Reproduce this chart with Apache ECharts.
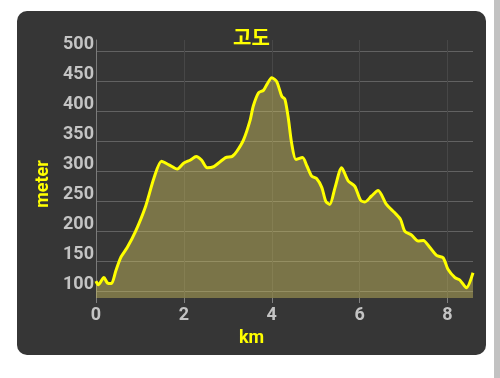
<!DOCTYPE html>
<html>
<head>
<meta charset="utf-8">
<script src="https://cdn.jsdelivr.net/npm/echarts@6.0.0/dist/echarts.min.js"></script>
<style>
  html, body { margin: 0; padding: 0; background: #fff; width: 500px; height: 378px; overflow: hidden; }
  .panel {
    position: absolute; left: 17px; top: 11px; width: 469px; height: 344px;
    background: #363636; border-radius: 10px; overflow: hidden;
  }
  #chart { width: 469px; height: 344px; }
  .scroll { position: absolute; left: 494px; top: 0; width: 6px; height: 378px; background: #c2c2c2; }
</style>
</head>
<body>
<div class="panel"><div id="chart"></div></div>
<div class="scroll"></div>
<script>
// elevation profile: distance (km) and altitude (m)
const distKm = [
  0, 0.05, 0.18, 0.26, 0.35, 0.45, 0.56, 0.71, 0.90, 1.13,
  1.32, 1.49, 1.66, 1.85, 2.00, 2.15, 2.28, 2.40, 2.53, 2.68,
  2.95, 3.10, 3.21, 3.36, 3.51, 3.58, 3.70, 3.81, 3.89, 4.00,
  4.11, 4.23, 4.30, 4.38, 4.45, 4.55, 4.70, 4.80, 4.91, 5.02,
  5.14, 5.23, 5.32, 5.44, 5.59, 5.74, 5.89, 6.02, 6.12, 6.27,
  6.42, 6.61, 6.80, 6.93, 7.03, 7.18, 7.33, 7.45, 7.60, 7.75,
  7.90, 8.01, 8.17, 8.28, 8.43, 8.58
];
const elevM = [
  116, 110, 122, 113, 112, 133, 155, 172, 199, 241,
  288, 316, 310, 303, 313, 318, 324, 318, 305, 307,
  322, 324, 333, 352, 385, 408, 430, 434, 444, 455,
  449, 424, 419, 386, 347, 319, 322, 308, 291, 287,
  272, 249, 244, 272, 305, 283, 274, 251, 248, 258,
  267, 244, 230, 219, 199, 193, 183, 184, 172, 159,
  155, 136, 122, 118, 105, 130
];
const xTicks = [0, 2, 4, 6, 8];
const yTicks = [100, 150, 200, 250, 300, 350, 400, 450, 500];

const chart = echarts.init(document.getElementById('chart'));

const fontFam = 'Roboto, "Noto Sans CJK KR", sans-serif';
const points = distKm.map((d, i) => [d, elevM[i]]);

const option = {
  backgroundColor: 'transparent',
  animation: false,
  title: {
    text: '고도',
    left: 'center',
    top: 14,
    textStyle: { color: '#ffff00', fontSize: 20, fontWeight: 'bold', fontFamily: fontFam }
  },
  grid: { left: 79, right: 13, top: 29, bottom: 57 },
  xAxis: {
    type: 'value',
    min: 0,
    max: 8.58,
    name: 'km',
    nameLocation: 'middle',
    nameGap: 26,
    nameTextStyle: {
      color: '#ffff00', fontSize: 18, fontWeight: 'bold', fontFamily: fontFam,
      verticalAlign: 'top', padding: [0, 66, 0, 0]
    },
    axisLine: { show: false },
    axisTick: { show: true, length: 5, customValues: xTicks, lineStyle: { color: '#808080' } },
    axisLabel: {
      customValues: xTicks,
      margin: 9,
      color: '#c4c4c4', fontSize: 18, fontWeight: 'bold', fontFamily: fontFam
    },
    splitLine: { show: true, lineStyle: { color: '#474747', width: 1 } }
  },
  yAxis: {
    type: 'value',
    min: 88,
    max: 518,
    name: 'meter',
    nameLocation: 'middle',
    nameGap: 44,
    nameRotate: 90,
    nameTextStyle: {
      color: '#ffff00', fontSize: 18, fontWeight: 'bold', fontFamily: fontFam,
      padding: [0, 30, 0, 0]
    },
    axisLine: { show: true, lineStyle: { color: '#7a7a7a', width: 1 } },
    axisTick: { show: false, customValues: yTicks },
    axisLabel: {
      customValues: yTicks,
      margin: 2,
      verticalAlign: 'bottom',
      lineHeight: 13,
      color: '#c4c4c4', fontSize: 18, fontWeight: 'bold', fontFamily: fontFam
    },
    splitLine: { show: true, lineStyle: { color: '#626262', width: 1 } }
  },
  series: [{
    type: 'line',
    data: points,
    smooth: 0.25,
    showSymbol: false,
    lineStyle: { color: '#ffff00', width: 3 },
    itemStyle: { color: '#ffff00' },
    areaStyle: { color: 'rgba(224, 209, 99, 0.4)', opacity: 1 }
  }]
};

chart.setOption(option);
</script>
</body>
</html>
